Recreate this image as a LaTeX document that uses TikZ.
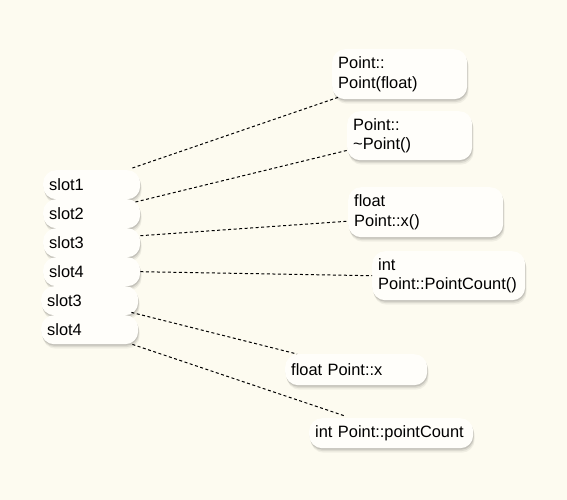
\documentclass[tikz,border=0pt]{standalone}
\usepackage{fontspec}
\setmainfont{Liberation Sans}
\usepackage{xcolor}
\usepackage{tikz}
\usetikzlibrary{shadows}
\definecolor{paper}{RGB}{253,251,240}
\definecolor{card}{RGB}{255,254,250}
\tikzset{
  card/.style={fill=card, rounded corners=13pt, inner xsep=6pt, inner ysep=3pt,
    drop shadow={shadow xshift=1.5pt, shadow yshift=-4.5pt, fill=black, opacity=.05},
    drop shadow={shadow xshift=1pt, shadow yshift=-3pt, fill=black, opacity=.08},
    drop shadow={shadow xshift=.5pt, shadow yshift=-1.5pt, fill=black, opacity=.11},
    align=left, anchor=north west, font=\fontsize{16.4}{19.5}\selectfont},
  slot/.style={card, minimum height=29pt, text width=85pt},
  link/.style={dash pattern=on 3pt off 2.5pt, line width=1pt}
}

\begin{document}
\begin{tikzpicture}[x=1pt, y=-1pt]
\path[use as bounding box, fill=paper] (0,0) rectangle (567,500);
\node[slot] (s1) at (43,170) {slot1};
\node[slot] (s2) at (43,199) {slot2};
\node[slot] (s3) at (43,228) {slot3};
\node[slot] (s4) at (43,257) {slot4};
\node[slot] (s5) at (41,286) {slot3};
\node[slot] (s6) at (41,315) {slot4};
\node[card, text width=123pt, minimum height=50pt] (p1) at (332,49) {Point::\\Point(float)};
\node[card, text width=113pt, minimum height=49pt] (p2) at (347,111) {Point::\\\textasciitilde Point()};
\node[card, text width=143pt, minimum height=50pt] (p3) at (348,187) {float\\Point::x()};
\node[card, text width=141pt, minimum height=49pt] (p4) at (372,251) {int\\Point::PointCount()};
\node[card, text width=130pt, minimum height=31pt] (p5) at (285,354) {float Point::x};
\node[card, text width=152pt, minimum height=30pt] (p6) at (309,418) {int Point::pointCount};
\draw[link] ([xshift=-8pt,yshift=2pt]s1.north east) -- ([xshift=6pt,yshift=2pt]p1.south west);
\draw[link] ([xshift=-5pt,yshift=-3pt]s2.north east) -- ([yshift=10pt]p2.south west);
\draw[link] ([yshift=7pt]s3.east) -- ([yshift=-9pt]p3.west);
\draw[link] (s4.east) -- (p4.west);
\draw[link] ([xshift=-7pt,yshift=3pt]s5.south east) -- ([xshift=12pt]p5.north west);
\draw[link] ([xshift=-6pt]s6.south east) -- ([xshift=36pt,yshift=2pt]p6.north west);
\end{tikzpicture}
\end{document}
